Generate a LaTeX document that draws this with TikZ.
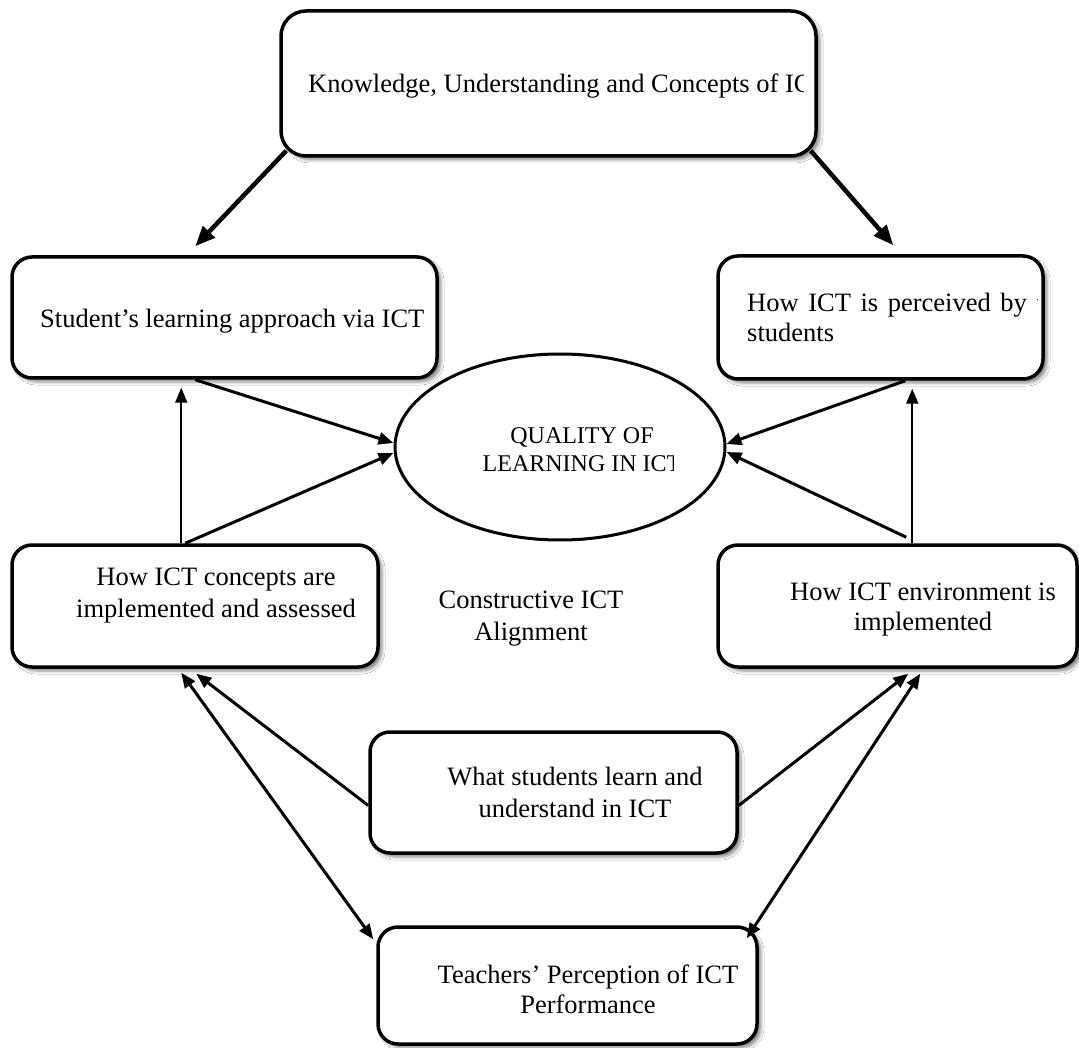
\documentclass[tikz,border=0pt]{standalone}
\usepackage{fontspec}
\setmainfont{Liberation Serif}
\usetikzlibrary{arrows.meta,shapes.geometric,shadows.blur}
\newcommand\fsmain{\fontsize{26.5}{31}\selectfont}
\newcommand\fsell{\fontsize{24}{28}\selectfont}
\begin{document}
\begin{tikzpicture}[x=1pt,y=-1pt,
  box/.style={draw=black, line width=3.5pt, rounded corners=20pt, fill=white, inner sep=0pt, rectangle,
    blur shadow={shadow xshift=4pt, shadow yshift=-4pt, shadow blur radius=3pt, shadow opacity=45}},
  txt/.style={inner sep=0pt, font=\fsmain},
  conn/.style={line width=3pt, -{Triangle[length=15pt,width=12pt]}},
  thinconn/.style={line width=2pt, -{Triangle[length=15pt,width=12pt]}},
  bothconn/.style={line width=3pt, {Triangle[length=15pt,width=12pt]}-{Triangle[length=15pt,width=12pt]}},
  thickconn/.style={line width=4.5pt, -{Triangle[length=20pt,width=16pt]}}
]
\fill[white] (0,0) rectangle (1079,1048);
\useasboundingbox (0,0) rectangle (1079,1048);

% boxes
\node[box, minimum width=535pt, minimum height=145pt, rounded corners=25pt] (top) at (548.5,83.5) {};
\node[box, minimum width=425pt, minimum height=121pt] (stud) at (224.5,317.5) {};
\node[box, minimum width=325pt, minimum height=123pt] (perc) at (880.5,317.5) {};
\node[box, minimum width=366pt, minimum height=122pt] (conc) at (195,606) {};
\node[box, minimum width=359pt, minimum height=122pt] (env) at (897.5,606) {};
\node[box, minimum width=367pt, minimum height=121pt] (mid) at (553.5,792.5) {};
\node[box, minimum width=379pt, minimum height=117pt] (teach) at (567.5,985.5) {};
\node[ellipse, draw=black, line width=3pt, fill=white, minimum width=330pt, minimum height=186pt, inner sep=0pt] (q) at (560,447) {};

% texts
\begin{scope}
  \clip (top.north -| top.west) rectangle ([xshift=-14pt]top.south -| top.east);
  \node[txt, anchor=base west] (ttop) at (308,93) {Knowledge, Understanding and Concepts of ICT};
\end{scope}
\node[txt, anchor=base west] (tstud) at (40,328) {Student’s learning approach via ICT};
\begin{scope}
  \clip (perc.north -| perc.west) rectangle ([xshift=-7pt]perc.south -| perc.east);
  \node[txt, anchor=base west] (tperc1) at (747,312) {\spaceskip=9.6pt\relax How ICT is perceived by the};
\end{scope}
\node[txt, anchor=base west] (tperc2) at (747,342) {students};
\node[txt, anchor=base] (tconc1) at (216,585) {How ICT concepts are};
\node[txt, anchor=base] (tconc2) at (216,617) {implemented and assessed};
\node[txt, anchor=base] (tenv1) at (923,600) {How ICT environment is};
\node[txt, anchor=base] (tenv2) at (923,630) {implemented};
\node[txt, anchor=base] (tmid1) at (575,785) {What students learn and};
\node[txt, anchor=base] (tmid2) at (575,817) {understand in ICT};
\node[txt, anchor=base] (tteach1) at (588,983) {Teachers’ Perception of ICT};
\node[txt, anchor=base] (tteach2) at (588,1013) {Performance};
\node[txt, font=\fsell, anchor=base] (tq1) at (582,443) {QUALITY OF};
\begin{scope}
  \clip (q.north -| q.west) rectangle ([xshift=-53pt]q.south -| q.east);
  \node[txt, font=\fsell, anchor=base] (tq2) at (582,471) {LEARNING IN ICT};
\end{scope}
\node[txt, anchor=base] (tcon1) at (531,608) {Constructive ICT};
\node[txt, anchor=base] (tcon2) at (531,640) {Alignment};

% connectors
\draw[thickconn] ([xshift=7pt,yshift=7pt]top.south west) -- ([xshift=185pt,yshift=9pt]stud.north west);
\draw[thickconn] ([xshift=-7pt,yshift=7pt]top.south east) -- ([xshift=177pt,yshift=9pt]perc.north west);

\draw[conn] ([xshift=185pt]stud.south west) -- ([yshift=4pt]q.west);
\draw[conn] ([xshift=175pt]conc.north west) -- ([yshift=-6pt]q.west);
\draw[thinconn] ([xshift=171pt]conc.north west) -- ([xshift=171pt,yshift=-8pt]stud.south west);

\draw[conn] ([xshift=189pt]perc.south west) -- ([yshift=3pt]q.east);
\draw[conn] ([xshift=190pt,yshift=6pt]env.north west) -- ([yshift=-5pt]q.east);
\draw[thinconn] ([xshift=196pt]env.north west) -- ([xshift=196pt,yshift=-8pt]perc.south west);

\draw[bothconn] ([xshift=171pt,yshift=-4pt]conc.south west) -- ([xshift=-3pt,yshift=-14pt]teach.north west);
\draw[conn] ([yshift=-13pt]mid.west) -- ([xshift=186pt,yshift=-5pt]conc.south west);
\draw[conn] ([yshift=-13pt]mid.east) -- ([xshift=192pt,yshift=-5pt]env.south west);
\draw[bothconn] ([xshift=204pt,yshift=-5pt]env.south west) -- ([xshift=-12pt,yshift=-13pt]teach.north east);
\end{tikzpicture}
\end{document}
